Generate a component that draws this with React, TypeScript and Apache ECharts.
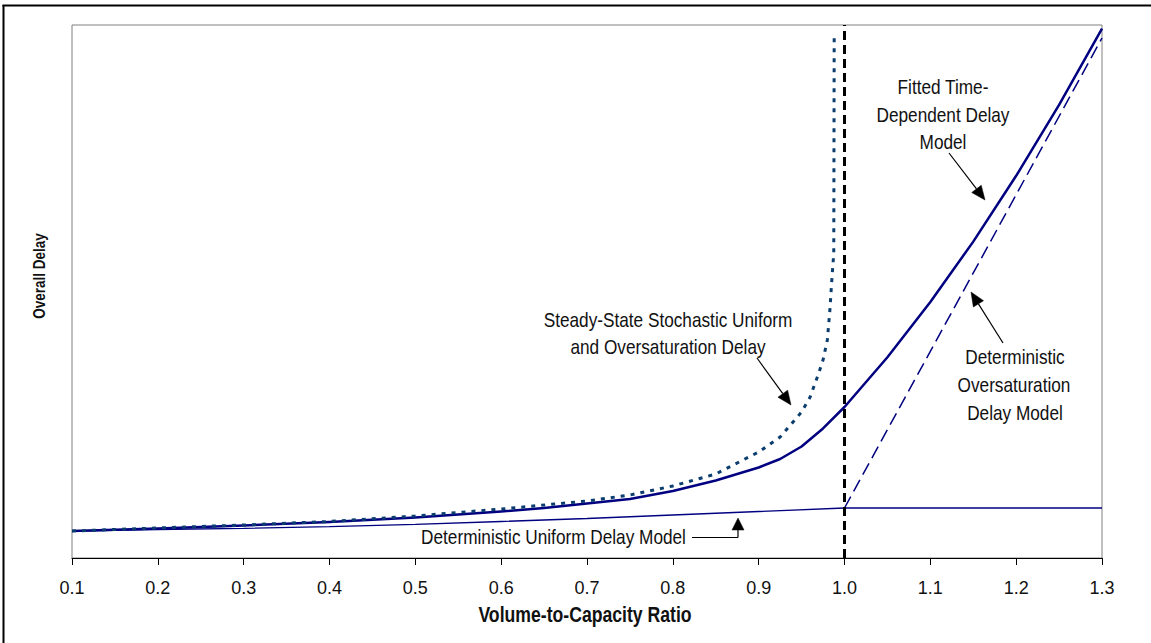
import React, { useEffect, useRef } from "react";
import * as echarts from "echarts";

// ---- Data (volume-to-capacity ratio vs overall delay, arbitrary units) ----
const X_TICKS = [0.1, 0.2, 0.3, 0.4, 0.5, 0.6, 0.7, 0.8, 0.9, 1.0, 1.1, 1.2, 1.3];

const X_UNIFORM = [0.1, 0.2, 0.3, 0.4, 0.5, 0.6, 0.7, 0.8, 0.9, 1.0, 1.3];
const Y_UNIFORM = [5.07, 5.35, 5.57, 5.87, 6.29, 6.85, 7.41, 8.07, 8.72, 9.38, 9.38];

const X_OVERSAT = [1.0, 1.3];
const Y_OVERSAT = [9.38, 97.56];

const X_FITTED = [0.1, 0.2, 0.3, 0.4, 0.5, 0.6, 0.65, 0.7, 0.75, 0.8, 0.85, 0.9, 0.925, 0.95, 0.975, 1.0, 1.05, 1.1, 1.15, 1.2, 1.25, 1.3];
const Y_FITTED = [5.07, 5.53, 6.1, 6.75, 7.6, 8.72, 9.38, 10.23, 11.07, 12.57, 14.54, 16.98, 18.57, 20.92, 24.3, 28.33, 37.67, 48.03, 59.36, 71.71, 85.0, 99.33];

const X_STEADY = [0.1, 0.2, 0.3, 0.4, 0.5, 0.6, 0.7, 0.75, 0.8, 0.85, 0.9, 0.925, 0.95, 0.96, 0.97, 0.975, 0.98, 0.983, 0.985, 0.9875, 0.988];
const Y_STEADY = [5.07, 5.63, 6.19, 6.85, 7.88, 9.19, 10.69, 11.82, 13.51, 15.76, 19.89, 22.7, 27.39, 30.21, 34.71, 37.15, 40.9, 46.53, 51.59, 57.22, 98.5];

const X_CAPACITY = [1.0, 1.0];
const Y_CAPACITY = [0, 100];

const FONT = "'Liberation Sans', Arial, sans-serif";
const NARROW = 0.82; // mimic a narrow sans face

const pairs = (xs: number[], ys: number[]) => xs.map((x, i) => [x, ys[i]]);

function arrow(x1: number, y1: number, x2: number, y2: number, headLen = 14, headHalf = 6) {
  const dx = x2 - x1;
  const dy = y2 - y1;
  const len = Math.sqrt(dx * dx + dy * dy);
  const ux = dx / len;
  const uy = dy / len;
  const bx = x2 - ux * headLen;
  const by = y2 - uy * headLen;
  const px = -uy;
  const py = ux;
  return [
    {
      type: "line",
      shape: { x1, y1, x2: bx, y2: by },
      style: { stroke: "#000", lineWidth: 1.2 },
      silent: true,
    },
    {
      type: "polygon",
      shape: {
        points: [
          [x2, y2],
          [bx + px * headHalf, by + py * headHalf],
          [bx - px * headHalf, by - py * headHalf],
        ],
      },
      style: { fill: "#000", stroke: "#000", lineWidth: 0.5 },
      silent: true,
    },
  ];
}

function label(text: string, x: number, y: number, size = 21, weight = "normal", rotation = 0) {
  return {
    type: "text",
    x,
    y,
    rotation,
    scaleX: NARROW,
    silent: true,
    style: {
      text,
      fill: "#111",
      font: `${weight} ${size}px ${FONT}`,
      align: "center",
      verticalAlign: "middle",
      textAlign: "center",
      textVerticalAlign: "middle",
    },
  };
}

export default function App() {
  const ref = useRef<HTMLDivElement>(null);

  useEffect(() => {
    document.body.style.margin = "0";
    const chart = echarts.init(ref.current!, null, { renderer: "svg" });

    const option: any = {
      animation: false,
      backgroundColor: "#fff",
      grid: {
        left: 72,
        right: 49,
        top: 25,
        bottom: 85,
        show: true,
        borderColor: "#808080",
        borderWidth: 1,
        backgroundColor: "transparent",
      },
      xAxis: {
        type: "value",
        min: 0.1,
        max: 1.3,
        interval: 0.1,
        splitLine: { show: false },
        axisLine: { show: true, onZero: false, lineStyle: { color: "#000", width: 1 } },
        axisTick: { show: true, inside: false, length: 7, lineStyle: { color: "#000", width: 1 } },
        axisLabel: {
          margin: 21,
          color: "#111",
          fontSize: 18,
          fontFamily: FONT,
          formatter: (v: number) => {
            const t = X_TICKS.find((k) => Math.abs(k - v) < 1e-6);
            return t !== undefined ? t.toFixed(1) : "";
          },
        },
      },
      yAxis: {
        type: "value",
        min: 0,
        max: 100,
        splitLine: { show: false },
        axisLine: { show: false },
        axisTick: { show: false },
        axisLabel: { show: false },
      },
      series: [
        {
          name: "Deterministic Uniform Delay Model",
          type: "line",
          data: pairs(X_UNIFORM, Y_UNIFORM),
          showSymbol: false,
          lineStyle: { color: "#000080", width: 1.3 },
          z: 2,
        },
        {
          name: "Deterministic Oversaturation Delay Model",
          type: "line",
          data: pairs(X_OVERSAT, Y_OVERSAT),
          showSymbol: false,
          lineStyle: { color: "#000080", width: 1.5, type: [13, 6] },
          z: 2,
        },
        {
          name: "Fitted Time-Dependent Delay Model",
          type: "line",
          data: pairs(X_FITTED, Y_FITTED),
          showSymbol: false,
          lineStyle: { color: "#000080", width: 2.5, join: "round" },
          z: 3,
        },
        {
          name: "Steady-State Stochastic Uniform and Oversaturation Delay",
          type: "line",
          data: pairs(X_STEADY, Y_STEADY),
          showSymbol: false,
          lineStyle: { color: "#0b3d6e", width: 3, type: [4, 6] },
          z: 4,
        },
        {
          name: "Capacity",
          type: "line",
          data: pairs(X_CAPACITY, Y_CAPACITY),
          showSymbol: false,
          lineStyle: { color: "#000", width: 3, type: [9, 5] },
          z: 5,
        },
      ],
      graphic: [
        // outer frame (top & left)
        { type: "line", shape: { x1: 2.5, y1: 5.5, x2: 1151, y2: 5.5 }, style: { stroke: "#000", lineWidth: 2 }, silent: true },
        { type: "line", shape: { x1: 3.5, y1: 5, x2: 3.5, y2: 643 }, style: { stroke: "#000", lineWidth: 2 }, silent: true },
        // axis titles
        label("Overall Delay", 38.5, 276, 16.5, "bold", Math.PI / 2),
        label("Volume-to-Capacity Ratio", 585, 614, 21.5, "bold"),
        // annotations
        label("Fitted Time-", 943, 87),
        label("Dependent Delay", 943, 115),
        label("Model", 943, 142),
        ...arrow(949, 153, 985, 200),
        label("Steady-State Stochastic Uniform", 668, 320),
        label("and Oversaturation Delay", 668, 347),
        ...arrow(757, 358, 791, 405),
        label("Deterministic", 1015, 357),
        label("Oversaturation", 1014, 385),
        label("Delay Model", 1015, 413),
        ...arrow(1003, 343, 971, 292),
        label("Deterministic Uniform Delay Model", 553.5, 537),
        { type: "line", shape: { x1: 692, y1: 537.5, x2: 738, y2: 537.5 }, style: { stroke: "#000", lineWidth: 1.2 }, silent: true },
        ...arrow(738, 537.5, 738, 518, 12, 6),
      ],
    };

    chart.setOption(option);
    return () => chart.dispose();
  }, []);

  return <div ref={ref} style={{ width: 1151, height: 643 }} />;
}
